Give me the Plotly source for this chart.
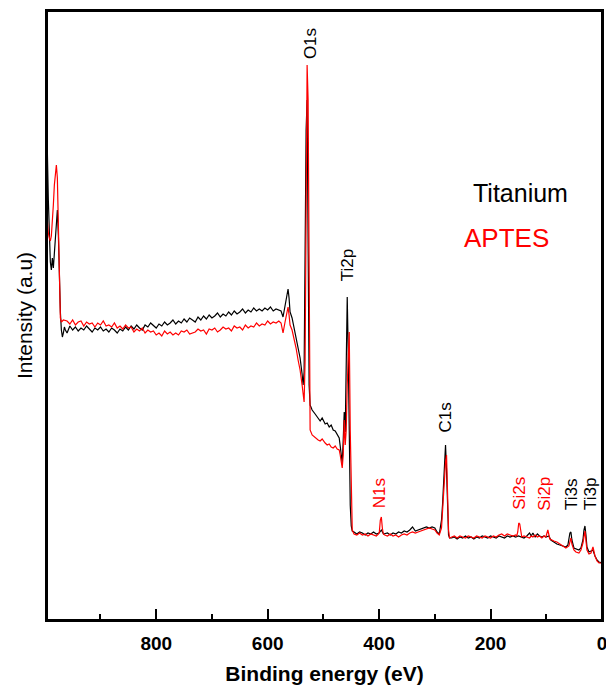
import plotly.graph_objects as go

# ---------------- data (binding energy in eV, intensity in a.u.) ----------------
survey_grid = [960, 955, 950, 945, 940, 935, 930, 925, 920, 915, 910, 905, 900, 895, 890,
               885, 880, 875, 870, 865, 860, 855, 850, 845, 840, 835, 830, 825, 820, 815,
               810, 805, 800, 795, 790, 785, 780, 775, 770, 765, 760, 755, 750, 745, 740,
               735, 730, 725, 720, 715, 710, 705, 700, 695, 690, 685, 680, 675, 670, 665,
               660, 655, 650, 645, 640, 635, 630, 625, 620, 615, 610, 605, 600, 595, 590,
               585, 580]
o1s_grid = [576.0, 572.4, 568.8, 565.2, 563.4, 561.6, 559.8, 556.2, 552.6, 549.0,
            545.4, 541.8, 538.2, 536.4, 534.6, 532.8, 531.0, 529.2, 527.4, 525.6,
            523.8, 520.2, 514.8, 509.4, 505.8, 502.2, 496.8, 493.2, 489.6, 486.0,
            482.4, 478.8, 475.2, 471.6, 469.8, 468.0, 466.2, 464.4, 462.6, 460.8,
            459.0, 457.2, 455.4, 453.6, 451.8, 450.0, 448.2]
c1s_grid = [288.0, 286.2, 284.4, 282.6, 280.8, 279.0, 277.2, 275.4, 273.6]

ti_energy = ([997.2, 995.4, 993.6, 991.8, 990.0, 988.2, 986.4, 984.6, 982.8, 981.0,
              979.2, 977.4, 975.6, 973.8, 972.0, 970.2, 968.4, 966.6, 964.8, 963.0]
             + survey_grid + o1s_grid
             + [445, 440, 435, 430, 425, 420, 415, 410, 405, 400, 396, 392, 385, 380, 375,
                370, 365, 360, 355, 350, 345, 340, 335, 330, 325, 320, 315, 310, 305, 300,
                296, 292]
             + c1s_grid
             + [270, 265, 260, 255, 250, 245, 240, 235, 230, 225, 220, 215, 210, 205, 200,
                195, 190, 185, 180, 175, 170, 165, 160, 155, 150, 145, 140, 135, 130, 127,
                124, 120, 116, 112, 108, 104]
             + [100.8, 95.4, 91.8, 86.4, 81.0, 75.6, 70.2, 64.8, 61.2, 59.4, 57.6, 55.8,
                54.0, 50.4, 46.8, 41.4, 37.8, 34.2, 32.4, 30.6, 28.8, 27.0, 23.4, 19.8,
                16.2, 12.6, 9.0, 5.4, 0.0])
ti_intensity = ([485, 470, 420, 375, 358, 350, 362, 352, 365, 375, 395, 410, 385, 338, 308,
                 290, 283, 287, 293, 290]
                + [287, 294, 290, 293, 289, 292, 290, 294, 291, 288, 292, 290, 293, 289, 291,
                   288, 292, 290, 287, 291, 289, 293, 290, 294, 291, 295, 292, 290, 295, 293,
                   297, 294, 292, 296, 294, 298, 295, 297, 300, 296, 299, 297, 301, 298, 302,
                   300, 298, 303, 300, 304, 301, 305, 302, 304, 307, 303, 306, 304, 308, 305,
                   309, 306, 308, 311, 307, 310, 308, 312, 309, 311, 309, 312, 310, 313, 309,
                   311, 310]
                + [309, 303, 315, 328, 331, 322, 308, 302, 292, 280, 270, 262, 246, 235, 248,
                   370, 490, 520, 410, 235, 215, 210, 206, 202, 199, 202, 196, 197, 193, 195,
                   190, 189, 186, 182, 174, 164, 157, 180, 208, 188, 248, 323, 268, 150, 115,
                   94, 89]
                + [88, 86, 88, 87, 85, 87, 86, 88, 86, 87, 90, 86, 87, 85, 87, 86, 88, 87, 89,
                   88, 90, 93, 89, 90, 91, 92, 93, 92, 93, 92, 88, 86]
                + [100, 115, 135, 160, 175, 150, 100, 85, 82]
                + [82, 83, 81, 83, 82, 84, 82, 83, 81, 83, 82, 84, 83, 82, 84, 83, 82, 84, 83,
                   82, 84, 83, 84, 83, 84, 83, 82, 84, 87, 84, 87, 83, 86, 84, 83, 84]
                + [83, 84, 80, 78, 76, 75, 74, 73, 75, 80, 87, 88, 80, 72, 71, 70, 72, 80, 90,
                   94, 85, 73, 68, 69, 70, 64, 60, 58, 57])

aptes_energy = ([997.2, 995.4, 993.6, 991.8, 990.0, 988.2, 986.4, 984.6, 982.8, 981.0,
                 979.2, 977.4, 975.6, 973.8, 972.0, 970.2, 966.6]
                + survey_grid + o1s_grid
                + [445, 440, 435, 430, 425, 420, 415, 410, 405, 401, 399.6, 397.8, 396.0,
                   394.2, 392.4, 390, 385, 380, 375, 370, 365, 360, 355, 350, 345, 340, 335,
                   330, 325, 320, 315, 310, 305, 300, 296, 292]
                + c1s_grid
                + [270, 265, 260, 255, 250, 245, 240, 235, 230, 225, 220, 215, 210, 205, 200,
                   195, 190, 185, 180, 175, 170, 165, 160, 155, 153, 151.2, 149.4, 147.6,
                   145.8, 144, 140, 135, 130, 127, 124, 120, 116, 112, 108, 104]
                + [100.8, 97.2, 95.4, 93.6, 86.4, 81.0, 75.6, 70.2, 64.8, 59.4, 55.8, 54.0,
                   50.4, 46.8, 41.4, 37.8, 34.2, 30.6, 28.8, 27.0, 23.4, 19.8, 16.2, 12.6,
                   9.0, 5.4, 0.0])
aptes_intensity = ([413, 396, 387, 382, 379, 384, 396, 415, 435, 450, 455, 442, 380, 322, 302,
                    298, 300]
                   + [299, 296, 300, 295, 298, 299, 294, 298, 296, 297, 293, 297, 295, 299, 294,
                      295, 293, 297, 292, 294, 291, 295, 292, 293, 288, 291, 289, 292, 287, 290,
                      288, 289, 285, 287, 284, 289, 286, 288, 285, 287, 285, 289, 288, 290, 286,
                      287, 288, 291, 289, 290, 286, 291, 290, 292, 288, 290, 293, 291, 292, 289,
                      294, 292, 293, 290, 295, 292, 294, 293, 297, 294, 296, 295, 299, 296, 298,
                      297, 299]
                   + [297, 287, 298, 308, 313, 305, 295, 290, 282, 272, 260, 250, 235, 225, 218,
                      260, 420, 555, 520, 300, 190, 185, 182, 180, 179, 181, 177, 175, 176, 173,
                      172, 174, 171, 170, 165, 158, 152, 165, 200, 175, 190, 235, 275, 288, 190,
                      110, 90]
                   + [86, 85, 87, 85, 86, 84, 86, 85, 84, 86, 88, 100, 103, 92, 86, 85, 84, 86,
                      84, 85, 83, 85, 86, 85, 87, 88, 87, 88, 89, 90, 91, 92, 91, 90, 87, 85]
                   + [92, 110, 130, 142, 158, 165, 130, 90, 82]
                   + [83, 84, 82, 84, 83, 82, 84, 83, 82, 84, 83, 82, 84, 83, 82, 84, 83, 85,
                      86, 84, 86, 85, 84, 85, 84, 88, 97, 96, 88, 83, 84, 83, 82, 84, 83, 85,
                      83, 84, 82, 84]
                   + [83, 90, 86, 81, 79, 78, 76, 74, 72, 74, 82, 76, 70, 68, 67, 70, 77, 89,
                      80, 70, 66, 67, 73, 64, 59, 57, 57])

peak_labels = ["O1s", "Ti2p", "C1s", "N1s", "Si2s", "Si2p", "Ti3s", "Ti3p"]
peak_label_energy = [523.8, 457.2, 282.6, 399.6, 149.4, 104.4, 55.8, 21.6]
peak_label_height = [576, 355, 202, 127, 127, 126, 126, 126]
peak_label_colors = ["black", "black", "black", "red", "red", "red", "black", "black"]

series_names = ["Titanium", "APTES"]
series_colors = ["black", "red"]

assert len(ti_energy) == len(ti_intensity)
assert len(aptes_energy) == len(aptes_intensity)

FONT = "Liberation Sans, Arial, sans-serif"

fig = go.Figure()
fig.add_trace(go.Scatter(x=ti_energy, y=ti_intensity, mode="lines", name=series_names[0],
                         line=dict(color=series_colors[0], width=1.2), showlegend=False))
fig.add_trace(go.Scatter(x=aptes_energy, y=aptes_intensity, mode="lines", name=series_names[1],
                         line=dict(color=series_colors[1], width=1.2), showlegend=False))

for lab, e, h, c in zip(peak_labels, peak_label_energy, peak_label_height, peak_label_colors):
    fig.add_annotation(x=e, y=h, xref="x", yref="y", text=lab, textangle=-90,
                       showarrow=False, font=dict(family=FONT, size=17, color=c),
                       xanchor="center", yanchor="middle")

# legend-style labels
fig.add_annotation(x=0.764, y=0.701, xref="paper", yref="paper", text=series_names[0],
                   showarrow=False, xanchor="left", yanchor="middle",
                   font=dict(family=FONT, size=25, color=series_colors[0]))
fig.add_annotation(x=0.748, y=0.627, xref="paper", yref="paper", text=series_names[1],
                   showarrow=False, xanchor="left", yanchor="middle",
                   font=dict(family=FONT, size=26, color=series_colors[1]))

# plot frame (all four sides)
fig.add_shape(type="rect", xref="paper", yref="paper", x0=0, y0=0, x1=1, y1=1,
              line=dict(color="black", width=2), layer="above")

fig.update_layout(
    width=606, height=689,
    margin=dict(l=47, r=4, t=11, b=69),
    paper_bgcolor="white", plot_bgcolor="white",
    font=dict(family=FONT, color="black"),
    xaxis=dict(
        range=[996, 0], showline=True, linewidth=2, linecolor="black", mirror=True,
        ticks="inside", ticklen=11, tickwidth=2, tickcolor="black",
        tick0=0, dtick=200, automargin=False, ticklabelstandoff=5,
        ticklabeloverflow="allow",
        minor=dict(ticks="inside", ticklen=6, tickwidth=2, tickcolor="black", dtick=100),
        showgrid=False, zeroline=False,
        tickfont=dict(family=FONT, size=19, color="black", weight="bold"),
        title=dict(text="Binding energy (eV)", standoff=14,
                   font=dict(family=FONT, size=21, color="black", weight="bold")),
    ),
    yaxis=dict(
        range=[0, 609], showline=True, linewidth=2, linecolor="black", mirror=True,
        ticks="", showticklabels=False, showgrid=False, zeroline=False, automargin=False,
        title=dict(text="Intensity (a.u)", standoff=7,
                   font=dict(family=FONT, size=21, color="black")),
    ),
)

# remove the browser's default page margin so the 606x689 figure fills the window exactly
fig.write_html("out.html",
               config={"displayModeBar": False},
               post_script="document.body.style.margin='0';"
                           "document.body.style.overflow='hidden';"
                           "document.documentElement.style.overflow='hidden';")
